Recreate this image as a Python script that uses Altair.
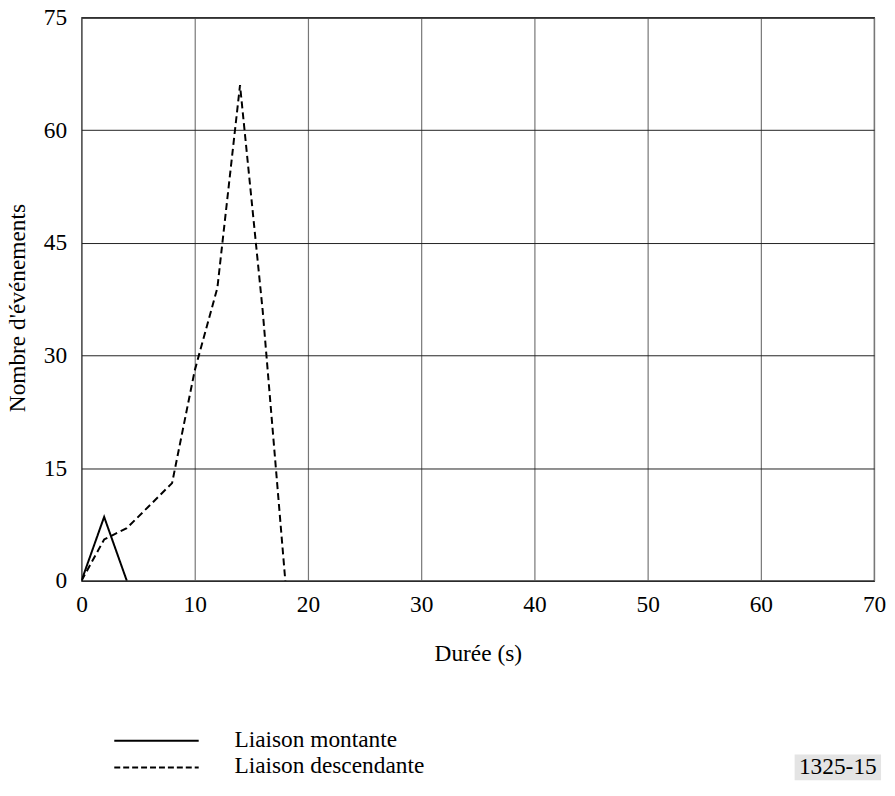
import altair as alt
import pandas as pd

# Data
up_x = [0, 2, 4]
up_y = [0, 8.5, 0]
down_x = [0, 2, 4, 8, 10, 12, 14, 16, 18]
down_y = [0, 5.5, 7, 13, 28, 39, 66, 36, 0]
series_names = ["Liaison montante", "Liaison descendante"]
x_ticks = [0, 10, 20, 30, 40, 50, 60, 70]
y_ticks = [0, 15, 30, 45, 60, 75]

rows = []
for x, y in zip(up_x, up_y):
    rows.append({"Durée": x, "Nombre": y, "Série": series_names[0]})
for x, y in zip(down_x, down_y):
    rows.append({"Durée": x, "Nombre": y, "Série": series_names[1]})
df = pd.DataFrame(rows)

FONT = "Liberation Serif"
FS = 23.5

lines = alt.Chart(df).mark_line(strokeWidth=2, clip=True).encode(
    x=alt.X("Durée:Q", title="Durée (s)",
            scale=alt.Scale(domain=[0, 70], nice=False),
            axis=alt.Axis(values=x_ticks, ticks=False, labelFlush=False,
                          labelPadding=12, titlePadding=26, gridColor="#777777",
                          gridOpacity=1, gridWidth=1.2, domain=False)),
    y=alt.Y("Nombre:Q", title="Nombre d'événements",
            scale=alt.Scale(domain=[0, 75], nice=False),
            axis=alt.Axis(values=y_ticks, ticks=False, labelFlush=False,
                          labelPadding=15, titlePadding=14, titleY=292,
                          gridColor="#222222",
                          gridOpacity=1, gridWidth=1, domain=False)),
    color=alt.Color("Série:N", sort=series_names,
                    scale=alt.Scale(domain=series_names, range=["black", "black"]),
                    legend=None),
    strokeDash=alt.StrokeDash("Série:N", sort=series_names,
                              scale=alt.Scale(domain=series_names, range=[[1, 0], [7, 4]]),
                              legend=None),
)

# Manual legend below the plot
leg1 = pd.DataFrame({"t": [series_names[0]]})
leg2 = pd.DataFrame({"t": [series_names[1]]})
leg_rule1 = alt.Chart(leg1).mark_rule(color="black", strokeWidth=2).encode(
    x=alt.value(33), x2=alt.value(118), y=alt.value(728)
)
leg_rule2 = alt.Chart(leg2).mark_rule(color="black", strokeWidth=2, strokeDash=[6, 3]).encode(
    x=alt.value(33), x2=alt.value(118), y=alt.value(755)
)
leg_text1 = alt.Chart(leg1).mark_text(font=FONT, fontSize=FS, align="left",
                                      baseline="middle", color="black").encode(
    x=alt.value(154), y=alt.value(727), text="t:N"
)
leg_text2 = alt.Chart(leg2).mark_text(font=FONT, fontSize=FS, align="left",
                                      baseline="middle", color="black").encode(
    x=alt.value(154), y=alt.value(754), text="t:N"
)

tag_df = pd.DataFrame({"t": ["1325-15"]})
tag_bg = alt.Chart(tag_df).mark_rect(color="#e4e4e4").encode(
    x=alt.value(718), x2=alt.value(805), y=alt.value(742), y2=alt.value(768)
)
tag = alt.Chart(tag_df).mark_text(font=FONT, fontSize=FS, align="center",
                                  baseline="middle", color="black").encode(
    x=alt.value(761.5), y=alt.value(755), text="t:N"
)

chart = alt.layer(lines, leg_rule1, leg_rule2, leg_text1, leg_text2, tag_bg, tag).properties(
    width=798, height=567,
    autosize=alt.AutoSizeParams(type="none"),
    padding={"left": 74, "top": 7, "right": 13, "bottom": 200},
    background="white",
).configure_view(stroke="black", strokeWidth=1.2).configure_axis(
    labelFont=FONT, titleFont=FONT, labelFontSize=FS, titleFontSize=FS,
    labelColor="black", titleColor="black", titleFontWeight="normal"
)

chart.save("out.html", embed_options={"renderer": "svg", "actions": False})
